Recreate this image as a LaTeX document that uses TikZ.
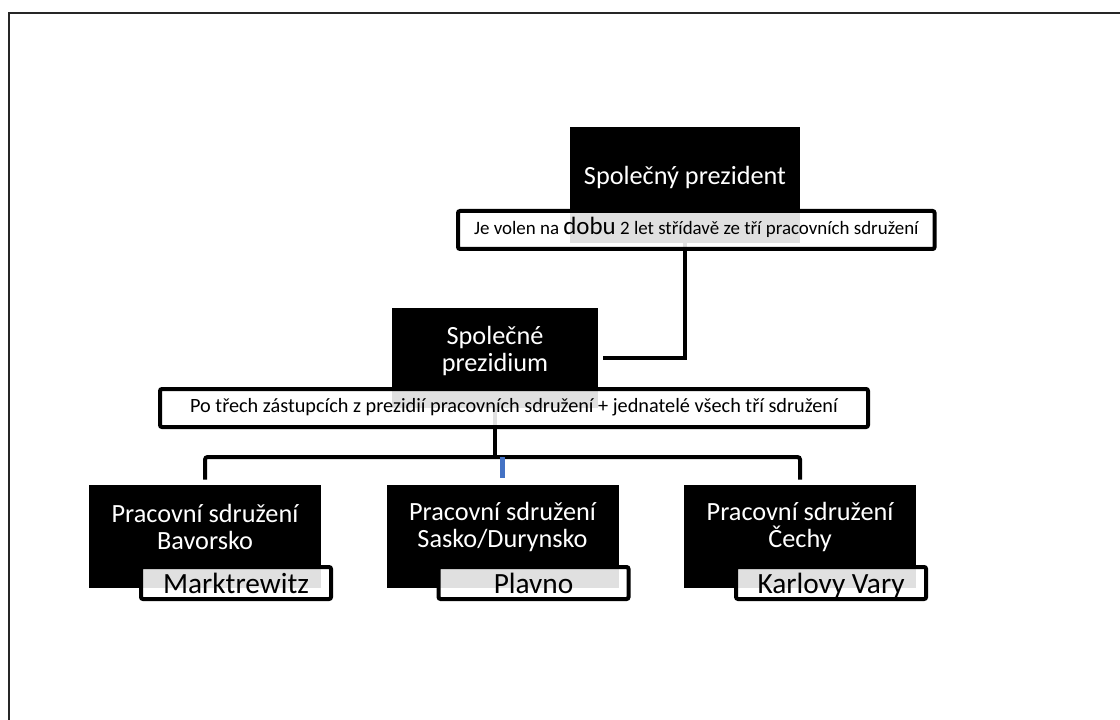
\documentclass[tikz,border=0pt]{standalone}
\usepackage{fontspec}
\setmainfont{Carlito}
\usepackage{xcolor}
\usepackage{tikz}
\usetikzlibrary{positioning}

\definecolor{stubblue}{RGB}{68,114,196}

\begin{document}
\begin{tikzpicture}[x=0.75pt, y=-0.75pt,
    blackbox/.style={fill=black, inner sep=0pt},
    boxtext/.style={text=white, align=center, inner sep=0pt, font=\fontsize{19.7}{20.3}\selectfont},
    notebox/.style={draw=black, line width=3pt, rounded corners=1.5pt, fill=white, fill opacity=0.88, text opacity=1, inner sep=0pt},
    placebox/.style={notebox, minimum width=142.5pt, minimum height=24pt, text height=15pt, text depth=0pt, font=\fontsize{22}{26}\selectfont},
    link/.style={line width=3pt},
    bluelink/.style={line width=3.75pt, draw=stubblue}]

    \useasboundingbox (0,0) rectangle (1120,720);

    % Page frame
    \draw[line width=1.5pt, black!85] (9,13) rectangle (1140,740);

    % Black boxes
    \node[blackbox, minimum width=172.5pt, minimum height=87pt] (pres) at (685,185) {};
    \node[blackbox, minimum width=154.5pt, minimum height=75pt] (presid) at (495,358) {};
    \node[blackbox, minimum width=174pt, minimum height=77.25pt] (bav) at (205,536.5) {};
    \node[blackbox, minimum width=174pt, minimum height=77.25pt, right=48.75pt of bav] (sas) {};
    \node[blackbox, minimum width=174pt, minimum height=77.25pt, right=48.75pt of sas] (cech) {};

    % Connectors
    \coordinate (hub) at (495,457);
    \draw[link] (pres.south) |- ([xshift=3.75pt]presid.east);
    \draw[link] (presid.south) -- (hub);
    \draw[link, rounded corners=2pt] (hub) -| ([yshift=3.75pt]bav.north);
    \draw[link, rounded corners=2pt] (hub) -| ([yshift=3.75pt]cech.north);
    \draw[bluelink] (sas.north |- hub) -- ([yshift=5.25pt]sas.north);

    % Box texts
    \node[boxtext, anchor=base] (pres-t) at (685,185) {Společný prezident};
    \node[boxtext] (presid-t) at ([yshift=5.25pt]presid.center) {Společné\\prezidium};
    \node[boxtext] (bav-t) at ([yshift=7pt]bav.center) {Pracovní sdružení\\Bavorsko};
    \node[boxtext] (sas-t) at ([yshift=7pt]sas.center) {Pracovní sdružení\\Sasko/Durynsko};
    \node[boxtext] (cech-t) at ([yshift=7pt]cech.center) {Pracovní sdružení\\Čechy};

    % Notes
    \node[notebox, anchor=west, inner xsep=12pt, minimum height=28.5pt, text height=9.5pt, text depth=2pt,
          font=\fontsize{14.2}{17}\selectfont] (term) at (456,230)
          {Je volen na {\fontsize{18.7}{20}\selectfont dobu} 2 let střídavě ze tří pracovních sdružení};
    \node[notebox, minimum width=531pt, minimum height=28.5pt, text height=9.5pt, text depth=2.7pt,
          font=\fontsize{15.2}{18}\selectfont] (members) at (514,408)
          {Po třech zástupcích z prezidií pracovních sdružení + jednatelé všech tří sdružení};

    % Seats
    \node[placebox] (bav-l) at ([shift={(31,46.5)}]bav.center) {Marktrewitz};
    \node[placebox] (sas-l) at ([shift={(31,46.5)}]sas.center) {Plavno};
    \node[placebox] (cech-l) at ([shift={(31,46.5)}]cech.center) {Karlovy Vary};

\end{tikzpicture}
\end{document}
